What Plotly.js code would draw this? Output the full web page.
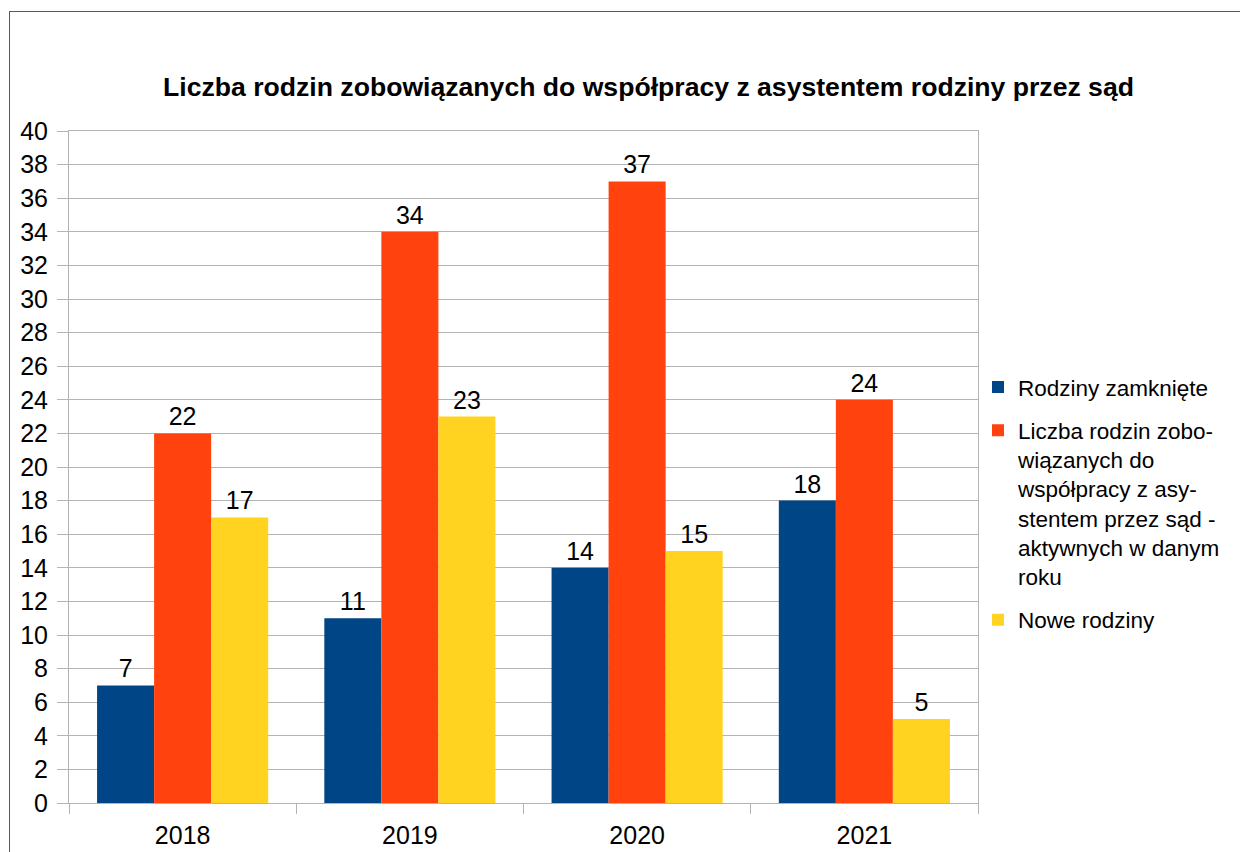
<!DOCTYPE html>
<html>
<head>
<meta charset="utf-8">
<script src="https://cdn.plot.ly/plotly-3.0.1.min.js"></script>
<style>
html,body{margin:0;padding:0;background:#fff;}
#chart{position:absolute;left:0;top:0;width:1240px;height:852px;}
#frame{position:absolute;left:9px;top:11px;width:1300px;height:900px;border:1.5px solid #5a5a5a;pointer-events:none;}
</style>
</head>
<body>
<div id="chart"></div>
<div id="frame"></div>
<script>
const categories = ['2018', '2019', '2020', '2021'];
const zamkniete = [7, 11, 14, 18];
const aktywne = [22, 34, 37, 24];
const nowe = [17, 23, 15, 5];
const seriesNames = [
  'Rodziny zamknięte',
  'Liczba rodzin zobo-<br>wiązanych do<br>współpracy z asy-<br>stentem przez sąd -<br>aktywnych w danym<br>roku',
  'Nowe rodziny'
];
const colors = ['#004586', '#ff420e', '#ffd320'];
const FONT = 'Liberation Sans, Arial, sans-serif';

const seriesValues = [zamkniete, aktywne, nowe];
const traces = seriesValues.map((vals, i) => ({
  type: 'bar',
  x: categories,
  y: vals,
  name: seriesNames[i],
  legendgroup: 'g' + i,
  marker: {color: colors[i], line: {width: 0}},
  text: vals.map(String),
  textposition: 'outside',
  textfont: {family: FONT, size: 25, color: '#000'},
  cliponaxis: false
}));

const layout = {
  width: 1240, height: 852,
  margin: {l: 69, r: 262, t: 131, b: 49},
  paper_bgcolor: '#fff', plot_bgcolor: '#fff',
  font: {family: FONT, size: 25, color: '#000'},
  title: {
    text: '<b>Liczba rodzin zobowiązanych do współpracy z asystentem rodziny przez sąd</b>',
    font: {family: FONT, size: 26.6, color: '#000'},
    x: 0.523, xanchor: 'center', y: 0.898, yanchor: 'middle'
  },
  barmode: 'group',
  bargap: 0.247,
  bargroupgap: 0,
  xaxis: {
    type: 'category',
    tickson: 'boundaries',
    ticks: 'outside', ticklen: 10, tickcolor: '#b3b3b3', tickwidth: 1,
    showgrid: false,
    showline: true, linecolor: '#b3b3b3', linewidth: 1, mirror: true,
    tickfont: {family: FONT, size: 25, color: '#000'},
    ticklabelstandoff: 10,
    fixedrange: true
  },
  yaxis: {
    range: [0, 40], dtick: 2,
    ticks: 'outside', ticklen: 11, tickcolor: '#b3b3b3', tickwidth: 1,
    showgrid: true, gridcolor: '#b3b3b3', gridwidth: 1,
    showline: true, linecolor: '#b3b3b3', linewidth: 1, mirror: true,
    zeroline: false,
    tickfont: {family: FONT, size: 25, color: '#000'},
    ticklabelstandoff: 4,
    fixedrange: true
  },
  legend: {
    x: 1.0, xanchor: 'left', y: 0.446, yanchor: 'middle',
    bgcolor: 'rgba(0,0,0,0)',
    font: {family: FONT, size: 22.5, color: '#000'},
    itemwidth: 30,
    valign: 'top',
    tracegroupgap: 11,
    traceorder: 'grouped'
  },
  showlegend: true
};

Plotly.newPlot('chart', traces, layout, {displayModeBar: false, staticPlot: true});
</script>
</body>
</html>
